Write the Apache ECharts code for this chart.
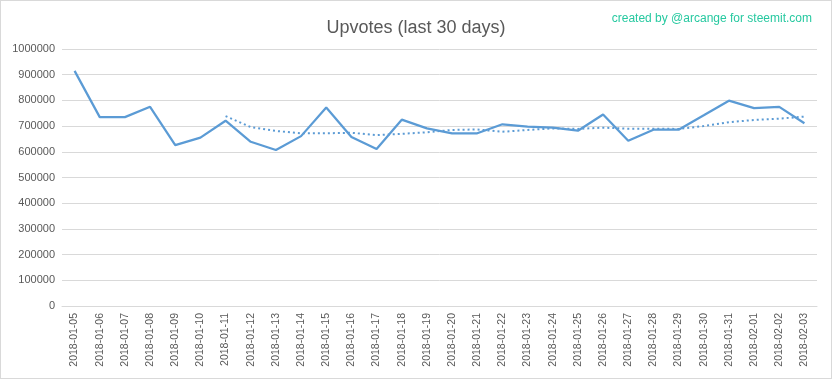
<!DOCTYPE html>
<html>
<head>
<meta charset="utf-8">
<script src="https://cdn.jsdelivr.net/npm/echarts@6/dist/echarts.min.js"></script>
<style>
html,body{margin:0;padding:0;background:#fff;}
#c{width:830px;height:377px;border:1px solid #d9d9d9;}
</style>
</head>
<body>
<div id="c"></div>
<script>
const categories = ["2018-01-05","2018-01-06","2018-01-07","2018-01-08","2018-01-09","2018-01-10","2018-01-11","2018-01-12","2018-01-13","2018-01-14","2018-01-15","2018-01-16","2018-01-17","2018-01-18","2018-01-19","2018-01-20","2018-01-21","2018-01-22","2018-01-23","2018-01-24","2018-01-25","2018-01-26","2018-01-27","2018-01-28","2018-01-29","2018-01-30","2018-01-31","2018-02-01","2018-02-02","2018-02-03"];
const upvotes = [915000,735000,735000,775000,626000,655000,721000,639000,607000,661000,772000,658000,611000,725000,691000,672000,672000,707000,698000,694000,682000,745000,643000,686000,686000,742000,799000,770000,775000,711000];
const trend = [null,null,null,null,null,null,739000,696000,681000,672000,672000,674000,665000,670000,676000,685000,687000,678000,685000,691000,689000,694000,690000,690000,689000,700000,715000,724000,729000,737000];
const yTicks = [0,100000,200000,300000,400000,500000,600000,700000,800000,900000,1000000];

const chart = echarts.init(document.getElementById('c'));
const FONT = 'Liberation Sans';
chart.setOption({
  animation:false,
  backgroundColor:'#fff',
  title:[
    {text:'Upvotes (last 30 days)', left:'center', top:13,
     textStyle:{fontFamily:FONT, fontSize:18, fontWeight:'normal', color:'#595959'}},
    {text:'created by @arcange for steemit.com', right:14, top:7,
     textStyle:{fontFamily:FONT, fontSize:12, fontWeight:'normal', color:'#26c9a0'}}
  ],
  grid:{left:61, right:14, top:48, bottom:72},
  xAxis:{
    type:'category', data:categories, boundaryGap:true,
    axisLine:{lineStyle:{color:'#d9d9d9'}},
    axisTick:{show:false},
    axisLabel:{rotate:90, interval:0, margin:7, fontFamily:FONT, fontSize:10.5, color:'#595959'}
  },
  yAxis:{
    type:'value', min:yTicks[0], max:yTicks[yTicks.length-1], interval:100000,
    axisLine:{show:false}, axisTick:{show:false},
    splitLine:{lineStyle:{color:'#d9d9d9'}},
    axisLabel:{margin:7, fontFamily:FONT, fontSize:11, color:'#595959', formatter:function(v){return String(v);}}
  },
  series:[
    {type:'line', data:upvotes, symbol:'none', lineStyle:{color:'#5b9bd5', width:2.25}, z:3},
    {type:'line', data:trend, symbol:'none', connectNulls:false,
     lineStyle:{color:'#5b9bd5', width:2, type:[2,3]}, z:2}
  ]
});
</script>
</body>
</html>
